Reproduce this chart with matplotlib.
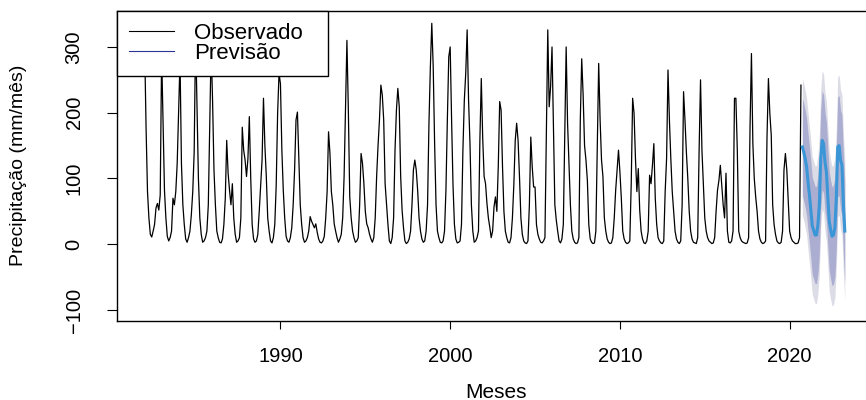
import numpy as np
import matplotlib.pyplot as plt
from matplotlib.lines import Line2D

plt.rcParams['font.family'] = ['Liberation Sans', 'DejaVu Sans']

# precipitação mensal observada (mm/mês), jan..dez, 1982 a set/2020
chuva = {
    1982: [300, 176, 80, 40, 15, 11, 20, 30, 55, 62, 52, 75],
    1983: [290, 189, 82, 40, 12, 5, 10, 20, 70, 60, 80, 123],
    1984: [204, 280, 123, 60, 30, 8, 3, 10, 20, 45, 80, 140],
    1985: [320, 214, 100, 40, 15, 3, 5, 10, 20, 60, 178, 300],
    1986: [219, 113, 60, 20, 10, 3, 2, 8, 30, 70, 158, 108],
    1987: [82, 60, 92, 40, 15, 3, 5, 10, 40, 178, 143, 128],
    1988: [103, 130, 194, 100, 30, 8, 3, 5, 15, 50, 90, 128],
    1989: [222, 150, 103, 40, 20, 5, 2, 10, 30, 90, 199, 260],
    1990: [244, 143, 82, 40, 12, 5, 3, 10, 25, 60, 113, 189],
    1991: [201, 130, 60, 30, 10, 3, 5, 10, 20, 42, 35, 30],
    1992: [25, 31, 18, 8, 3, 2, 5, 12, 40, 80, 171, 138],
    1993: [80, 60, 31, 20, 10, 3, 8, 15, 40, 103, 204, 310],
    1994: [204, 72, 40, 20, 10, 3, 5, 10, 60, 138, 123, 92],
    1995: [50, 31, 25, 15, 8, 3, 10, 40, 103, 150, 189, 242],
    1996: [227, 189, 92, 62, 30, 5, 1, 10, 40, 143, 204, 237],
    1997: [209, 103, 52, 25, 5, 1, 3, 8, 20, 60, 113, 128],
    1998: [113, 82, 40, 20, 8, 3, 5, 20, 60, 184, 270, 336],
    1999: [270, 153, 60, 20, 10, 3, 2, 5, 20, 82, 189, 285],
    2000: [300, 189, 90, 30, 8, 2, 3, 5, 30, 143, 219, 260],
    2001: [326, 219, 153, 60, 20, 3, 5, 10, 20, 158, 252, 161],
    2002: [103, 92, 62, 40, 26, 10, 20, 57, 72, 50, 118, 217],
    2003: [204, 118, 50, 20, 10, 3, 2, 10, 40, 90, 158, 184],
    2004: [158, 103, 40, 15, 5, 2, 1, 5, 60, 163, 118, 87],
    2005: [87, 30, 15, 8, 3, 2, 5, 10, 168, 326, 209, 240],
    2006: [300, 184, 60, 37, 20, 5, 2, 8, 30, 168, 300, 184],
    2007: [120, 60, 20, 8, 3, 1, 2, 10, 189, 282, 227, 150],
    2008: [128, 97, 30, 8, 3, 1, 2, 20, 148, 275, 189, 128],
    2009: [103, 40, 20, 8, 3, 1, 2, 10, 40, 82, 113, 143],
    2010: [110, 70, 20, 8, 3, 1, 2, 5, 92, 222, 199, 130],
    2011: [80, 115, 52, 20, 8, 2, 1, 5, 20, 105, 92, 120],
    2012: [153, 70, 30, 10, 5, 2, 1, 5, 80, 130, 265, 189],
    2013: [130, 80, 50, 20, 8, 3, 1, 5, 60, 232, 189, 140],
    2014: [100, 50, 20, 8, 3, 2, 1, 10, 143, 250, 143, 90],
    2015: [40, 20, 10, 5, 3, 1, 2, 10, 50, 82, 97, 120],
    2016: [90, 60, 40, 108, 20, 3, 2, 5, 20, 222, 222, 143],
    2017: [20, 10, 5, 3, 2, 1, 2, 10, 178, 290, 153, 100],
    2018: [72, 50, 20, 8, 3, 1, 2, 5, 163, 252, 199, 166],
    2019: [60, 30, 15, 5, 2, 1, 3, 20, 113, 138, 113, 67],
    2020: [20, 10, 5, 3, 1, 1, 2, 10, 242],
}

# previsão out/2020 .. abr/2023 e intervalos 80% / 95%
previsao = [148, 140, 130, 118, 95, 75, 52, 28, 21, 14, 14, 30, 60, 130, 158, 153,
            125, 110, 72, 35, 22, 12, 14, 25, 70, 148, 150, 128, 120, 62, 20]
sup95 = [252, 244, 234, 222, 200, 180, 157, 133, 126, 119, 120, 136, 166, 236, 264, 259,
         231, 216, 178, 141, 128, 118, 121, 132, 177, 255, 257, 235, 227, 169, 127]
inf95 = [44, 36, 26, 14, -9, -29, -52, -76, -83, -90, -90, -75, -45, 25, 53, 48,
         19, 4, -34, -71, -84, -94, -92, -81, -36, 42, 44, 22, 14, -44, -86]
sup80 = [222, 214, 204, 192, 169, 149, 126, 102, 95, 88, 88, 105, 135, 205, 233, 228,
         200, 185, 147, 110, 97, 87, 90, 101, 146, 224, 226, 204, 196, 138, 98]
inf80 = [74, 66, 56, 44, 21, 1, -22, -46, -53, -60, -60, -45, -15, 55, 83, 78,
         50, 35, -3, -40, -53, -63, -61, -50, -6, 72, 74, 52, 44, -14, -58]

obs = np.concatenate([chuva[a] for a in sorted(chuva)])
t_obs = 1982 + np.arange(len(obs)) / 12
t_prev = 2020.75 + np.arange(len(previsao)) / 12

fig = plt.figure(figsize=(8.66, 4), dpi=100)
ax = fig.add_axes([117 / 866, 1 - 320.5 / 400, 757.5 / 866, 309.5 / 400])

ax.fill_between(t_prev, inf95, sup95, color='#dcdce6', lw=0)
ax.fill_between(t_prev, inf80, sup80, color='#abaed0', lw=0)
ax.plot(t_obs, obs, color='black', lw=0.9)
ax.plot(t_prev, previsao, color='#3a96d6', lw=2.2)

ax.set_xlim(1980.37, 2025.0)
ax.set_ylim(-116, 354.7)
ax.set_xticks([1990, 2000, 2010, 2020])
ax.set_yticks([-100, 0, 100, 200, 300])
ax.tick_params(axis='x', direction='out', length=6, width=0.8, pad=13, labelsize=14.5)
ax.tick_params(axis='y', direction='out', length=7, width=0.8, pad=17, labelsize=14.5)
for lab in ax.get_yticklabels():
    lab.set_rotation(90)
    lab.set_va('center')
for s in ax.spines.values():
    s.set_linewidth(1.0)

ax.set_xlabel('Meses', fontsize=15, labelpad=12)
ax.set_ylabel('Precipitação (mm/mês)', fontsize=14, labelpad=27)

handles = [Line2D([], [], color='black', lw=0.8),
           Line2D([], [], color='#283593', lw=0.8)]
leg = ax.legend(handles, ['Observado', 'Previsão'], loc='upper left',
                bbox_to_anchor=(0, 1, 211 / 757.5, 0), mode='expand',
                borderaxespad=0, fancybox=False, framealpha=1, edgecolor='black',
                fontsize=16, handlelength=2.0, handletextpad=0.9, borderpad=0.55,
                labelspacing=-0.05)
leg.get_frame().set_linewidth(1.0)
leg.set_zorder(10)

fig.savefig('out.png', dpi=100)
